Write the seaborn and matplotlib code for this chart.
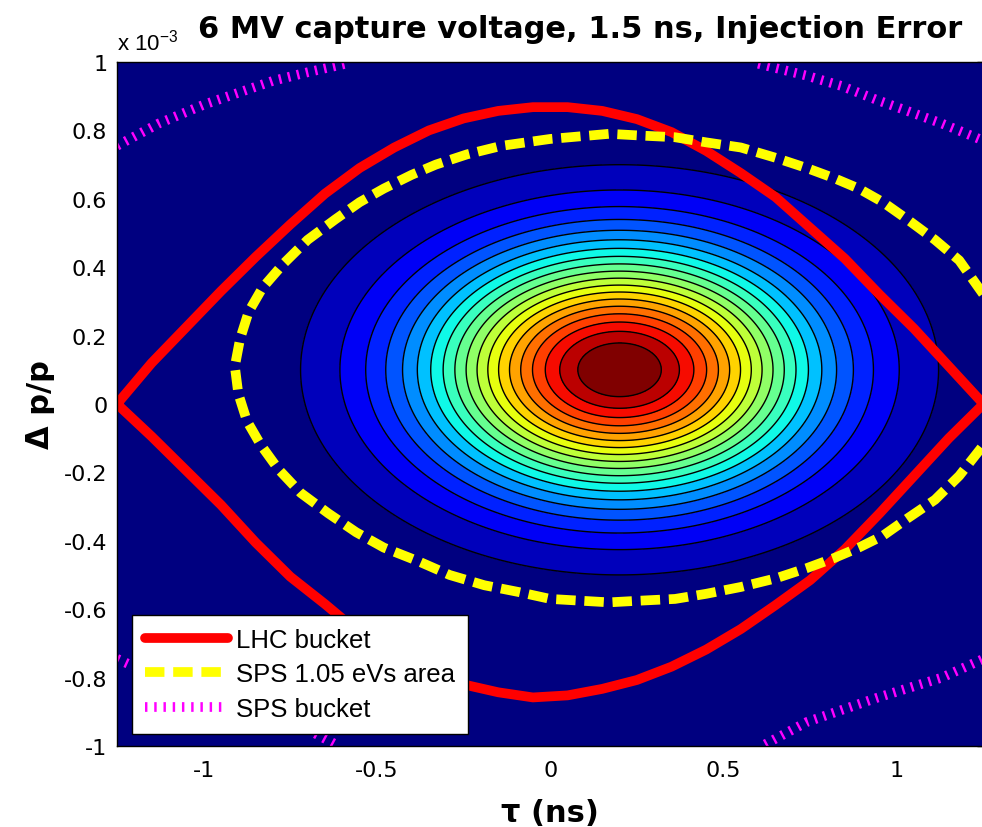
#Bucket plot - 6 MV capture voltage, 1.5 ns, injection error
import numpy as np
import pandas as pd
import matplotlib
matplotlib.use('Agg')
import matplotlib.pyplot as plt
import seaborn as sns
from matplotlib.colors import ListedColormap
from matplotlib.lines import Line2D

# distribucion del haz (gaussiana, dp en unidades de 1e-3)
centro_tau = 0.2
centro_dp = 0.1
sigma_tau = 0.376
sigma_dp = 0.245
n_niveles = 20

# LHC bucket (rama superior izq->der, luego inferior der->izq)
lhc_tau = [-1.25, -1.15, -1.05, -0.95, -0.85, -0.75, -0.65, -0.55, -0.45, -0.35, -0.25, -0.15, -0.05,
           0.05, 0.15, 0.25, 0.35, 0.45, 0.55, 0.65, 0.75, 0.85, 0.95, 1.05, 1.15, 1.25,
           1.15, 1.05, 0.95, 0.85, 0.75, 0.65, 0.55, 0.45, 0.35, 0.25, 0.15, 0.05,
           -0.05, -0.15, -0.25, -0.35, -0.45, -0.55, -0.65, -0.75, -0.85, -0.95, -1.05, -1.15, -1.25]
lhc_dp = [0.00, 0.12, 0.225, 0.33, 0.43, 0.525, 0.615, 0.69, 0.75, 0.80, 0.835, 0.857, 0.868,
          0.868, 0.857, 0.833, 0.795, 0.74, 0.675, 0.605, 0.515, 0.425, 0.32, 0.22, 0.11, 0.00,
          -0.10, -0.21, -0.32, -0.425, -0.515, -0.588, -0.658, -0.718, -0.768, -0.807, -0.833, -0.852,
          -0.858, -0.843, -0.82, -0.785, -0.735, -0.67, -0.585, -0.505, -0.405, -0.295, -0.195, -0.095, 0.00]

# SPS 1.05 eVs area
sps_area_tau = [1.30, 1.25, 1.18, 1.11, 1.03, 0.96, 0.89, 0.82, 0.74, 0.65, 0.55, 0.45, 0.36, 0.26, 0.17,
                0.00, -0.14, -0.24, -0.33, -0.40, -0.48, -0.55, -0.62, -0.70, -0.77, -0.83, -0.87, -0.895,
                -0.91, -0.90, -0.875, -0.835, -0.785, -0.72, -0.64, -0.56, -0.48, -0.38, -0.29, -0.19, -0.09,
                0.00, 0.17, 0.26, 0.36, 0.45, 0.55, 0.65, 0.74, 0.82, 0.89, 0.96, 1.03, 1.11, 1.18, 1.25, 1.30]
sps_area_dp = [0.10, 0.32, 0.42, 0.48, 0.54, 0.59, 0.63, 0.66, 0.69, 0.72, 0.75, 0.765, 0.78, 0.785, 0.79,
               0.775, 0.755, 0.73, 0.70, 0.67, 0.63, 0.59, 0.54, 0.48, 0.41, 0.34, 0.27, 0.19,
               0.11, 0.03, -0.05, -0.12, -0.19, -0.26, -0.32, -0.375, -0.42, -0.46, -0.50, -0.53, -0.55,
               -0.57, -0.58, -0.575, -0.57, -0.555, -0.535, -0.51, -0.48, -0.45, -0.42, -0.385, -0.335, -0.28,
               -0.21, -0.12, 0.10]

# SPS bucket (solo se ven las esquinas)
sps_b_tau = [-1.25, -1.13, -1.00, -0.90, -0.80, -0.70, -0.59,
             0.60, 0.74, 0.84, 0.94, 1.03, 1.13, 1.25,
             0.62, 0.74, 0.94, 1.13, 1.25,
             -1.25, -1.13, -0.94, -0.74, -0.62]
sps_b_dp = [0.755, 0.82, 0.875, 0.91, 0.945, 0.97, 0.995,
            0.995, 0.96, 0.93, 0.89, 0.857, 0.82, 0.77,
            -0.995, -0.93, -0.86, -0.80, -0.745,
            -0.745, -0.80, -0.86, -0.93, -0.995]
sps_b_tramo = [0] * 7 + [1] * 7 + [2] * 5 + [3] * 5

etiquetas = ['LHC bucket', 'SPS 1.05 eVs area', 'SPS bucket']
xticks = [-1, -0.5, 0, 0.5, 1]
xtick_lbl = ['-1', '-0.5', '0', '0.5', '1']
yticks = [-1, -0.8, -0.6, -0.4, -0.2, 0, 0.2, 0.4, 0.6, 0.8, 1]
ytick_lbl = ['-1', '-0.8', '-0.6', '-0.4', '-0.2', '0', '0.2', '0.4', '0.6', '0.8', '1']

sns.set_theme(style='white')
plt.rcParams['font.family'] = ['DejaVu Sans']
plt.rcParams['text.color'] = 'black'
plt.rcParams['axes.labelcolor'] = 'black'
plt.rcParams['xtick.color'] = 'black'
plt.rcParams['ytick.color'] = 'black'

fig = plt.figure(figsize=(9.82, 8.28), dpi=100)
ax = fig.add_axes([117 / 982, 81 / 828, 866.5 / 982, 684 / 828])

# contornos rellenos
tau = np.linspace(-1.25, 1.25, 500)
dp = np.linspace(-1, 1, 500)
T, D = np.meshgrid(tau, dp)
Z = np.exp(-0.5 * ((T - centro_tau) / sigma_tau) ** 2 - 0.5 * ((D - centro_dp) / sigma_dp) ** 2)
niveles = np.linspace(0, 1, n_niveles + 1)
cmap_jet = ListedColormap(plt.cm.jet(np.linspace(0, 1, n_niveles)))
ax.contourf(T, D, Z, levels=niveles, cmap=cmap_jet)
ax.contour(T, D, Z, levels=niveles[1:-1], colors='black', linewidths=1.0)

# curvas
df_lhc = pd.DataFrame({'tau': lhc_tau, 'dp': lhc_dp})
df_area = pd.DataFrame({'tau': sps_area_tau, 'dp': sps_area_dp})
df_spsb = pd.DataFrame({'tau': sps_b_tau, 'dp': sps_b_dp, 'tramo': sps_b_tramo})

estilo_lhc = dict(color='red', linewidth=7, linestyle='-')
estilo_area = dict(color='yellow', linewidth=7, linestyle=(0, (2.0, 0.9)))
estilo_spsb = dict(color='magenta', linewidth=7, linestyle=(0, (0.25, 0.7)))

sns.lineplot(data=df_lhc, x='tau', y='dp', sort=False, estimator=None, ax=ax, **estilo_lhc)
sns.lineplot(data=df_area, x='tau', y='dp', sort=False, estimator=None, ax=ax, **estilo_area)
sns.lineplot(data=df_spsb, x='tau', y='dp', units='tramo', sort=False, estimator=None, ax=ax, **estilo_spsb)

ax.set_xlim(-1.25, 1.25)
ax.set_ylim(-1, 1)
ax.set_xticks(xticks)
ax.set_xticklabels(xtick_lbl)
ax.set_yticks(yticks)
ax.set_yticklabels(ytick_lbl)
ax.tick_params(direction='in', length=5, width=1, colors='black', labelsize=16,
               top=True, right=True, pad=7)
ax.tick_params(axis='x', pad=10)
for s in ax.spines.values():
    s.set_color('black')
    s.set_linewidth(1)

ax.set_xlabel('τ (ns)', fontsize=22, fontweight='bold', labelpad=13)
ax.set_ylabel('Δ p/p', fontsize=22, fontweight='bold', labelpad=6)
ax.set_title('6 MV capture voltage, 1.5 ns, Injection Error', fontsize=22, fontweight='bold',
             x=0.535, pad=18)
fig.text(117 / 982, 1 - 50 / 828, r'x 10$^{\mathregular{-3}}$', fontsize=16, ha='left', va='baseline',
         family='Liberation Sans')

# leyenda
handles = [Line2D([], [], **estilo_lhc), Line2D([], [], **estilo_area), Line2D([], [], **estilo_spsb)]
leg = ax.legend(handles, etiquetas, loc='lower left', bbox_to_anchor=(0.0173, 0.0175), borderaxespad=0,
                frameon=True, fancybox=False, edgecolor='black', framealpha=1,
                prop={'family': 'Liberation Sans', 'size': 18.5},
                handlelength=3.25, handletextpad=0.3, labelspacing=0.42, borderpad=0.5)
leg.get_frame().set_linewidth(1)

plt.savefig('out.png', dpi=100)
plt.close()
